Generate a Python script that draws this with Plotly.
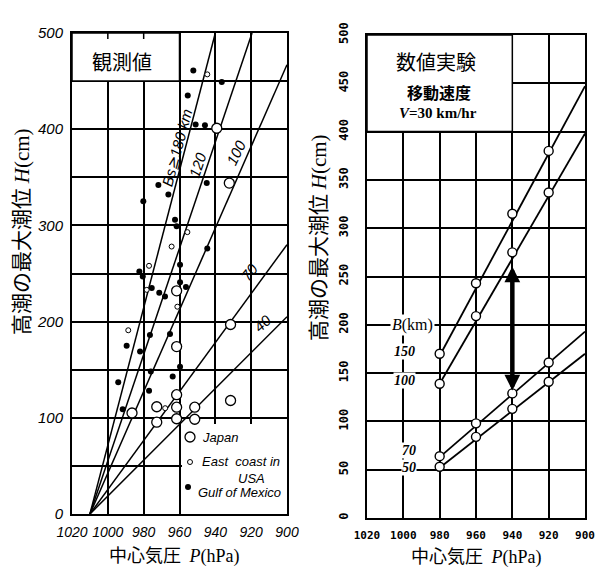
import plotly.graph_objects as go

# ---------------- data: left panel (observations) ----------------
japan_P = [939.2, 932.2, 961.6, 961.6, 961.6, 961.6, 961.6, 931.5, 986.5, 972.7, 972.7, 951.5, 951.5, 931.5]
japan_H = [401, 344, 232, 174, 124, 111, 99, 197, 105, 111.5, 95.5, 111, 98.5, 118]
east_P = [944.5, 955.6, 964.4, 977.0, 978.3, 961.2, 988.6, 968.0]
east_H = [457, 293, 278, 258, 233, 215.5, 191, 110]
gulf_P = [952.3, 936.4, 955.4, 951.0, 945.8, 944.8, 971.8, 966.2, 980.2, 962.5, 961.6, 944.5,
          959.7, 982.4, 980.5, 975.5, 959.7, 956.4, 971.3, 968.1, 976.5, 965.3, 989.5, 982.0,
          976.0, 959.7, 963.8, 994.2, 977.0, 991.7]
gulf_H = [461, 449, 435, 405, 404, 344, 342, 332, 325, 306, 299, 276,
          259, 252, 247, 235, 241, 236, 230, 226, 186, 187, 175, 169,
          148, 153, 143, 137, 128, 109]

line_labels = ["Bs≧180 km", "120", "100", "70", "40"]
line_origin_P = 1010
line_end_P = [940, 919.5, 900, 900, 900]
line_end_H = [500, 500, 467, 280, 205]
line_label_P = [961.4, 949.7, 928.5, 921.2, 913.9]
line_label_H = [381, 363, 376, 251, 198]

# ---------------- data: right panel (numerical experiment) ----------------
num_P = [980, 960, 940, 920]
B_labels = ["150", "100", "70", "50"]
B_H = {
    "150": [170, 243, 315, 380],
    "100": [139, 209, 275, 337],
    "70": [64, 98, 129, 161],
    "50": [53, 84, 113, 141],
}
fit_P = [980, 900]
fit_H = {
    "150": [168, 447],
    "100": [139, 398],
    "70": [63, 193],
    "50": [52, 170],
}
arrow_P = 940
arrow_H = [262, 132]

x_ticks = [1020, 1000, 980, 960, 940, 920, 900]

W, Hpx = 603, 568
def px(x): return x / W
def py(y): return 1 - y / Hpx

fig = go.Figure()

# left lines
for i, lab in enumerate(line_labels):
    fig.add_trace(go.Scatter(x=[line_origin_P, line_end_P[i]], y=[0, line_end_H[i]],
                             mode="lines", line=dict(color="black", width=1.5),
                             xaxis="x", yaxis="y", showlegend=False, hoverinfo="skip"))
fig.add_trace(go.Scatter(x=gulf_P, y=gulf_H, mode="markers", xaxis="x", yaxis="y",
                         marker=dict(size=6, color="black"), showlegend=False))
fig.add_trace(go.Scatter(x=east_P, y=east_H, mode="markers", xaxis="x", yaxis="y",
                         marker=dict(size=5, color="white", line=dict(color="black", width=1)),
                         showlegend=False))
fig.add_trace(go.Scatter(x=japan_P, y=japan_H, mode="markers", xaxis="x", yaxis="y",
                         marker=dict(size=10, color="white", line=dict(color="black", width=1.3)),
                         showlegend=False))

# right lines + points
for b in B_labels:
    fig.add_trace(go.Scatter(x=fit_P, y=fit_H[b], mode="lines", xaxis="x2", yaxis="y2",
                             line=dict(color="black", width=1.8), showlegend=False))
for b in B_labels:
    fig.add_trace(go.Scatter(x=num_P, y=B_H[b], mode="markers", xaxis="x2", yaxis="y2",
                             marker=dict(size=9, color="white", line=dict(color="black", width=1.4)),
                             showlegend=False))

grid = dict(showgrid=True, gridcolor="black", gridwidth=1.5, showline=True, mirror=True,
            linecolor="black", linewidth=2, zeroline=False, ticks="", automargin=False)

fig.update_layout(
    width=W, height=Hpx, margin=dict(l=0, r=0, t=0, b=0, pad=0, autoexpand=False),
    paper_bgcolor="white", plot_bgcolor="white",
    font=dict(family="Noto Sans CJK JP", color="black"),
    xaxis=dict(domain=[px(72), px(287)], range=[1020, 900], tickvals=x_ticks, anchor="y",
               tickfont=dict(family="Liberation Sans", size=14, style="italic"),
               ticklabelstandoff=4, **grid),
    yaxis=dict(domain=[py(514), py(33)], range=[0, 500], anchor="x",
               tickvals=list(range(0, 501, 50)),
               ticktext=[str(v) if v % 100 == 0 else "" for v in range(0, 501, 50)],
               tickfont=dict(family="Liberation Sans", size=15, style="italic"),
               ticklabelstandoff=4, **grid),
    xaxis2=dict(domain=[px(367), px(585)], range=[1020, 900], tickvals=x_ticks, anchor="y2",
                tickfont=dict(family="DejaVu Sans Mono", size=11, weight="bold"),
                ticklabelstandoff=6, **grid),
    yaxis2=dict(domain=[py(518), py(35)], range=[0, 500], anchor="x2",
                tickvals=list(range(0, 501, 50)), tickangle=-90,
                tickfont=dict(family="DejaVu Sans Mono", size=12, weight="bold"),
                ticklabelstandoff=12, **grid),
)

shapes = [
    dict(type="rect", xref="x", yref="y", x0=1020, x1=960, y0=450, y1=500, layer="between",
         fillcolor="white", line=dict(color="black", width=1.5)),
    dict(type="rect", xref="x", yref="y", x0=958.6, x1=900, y0=0, y1=93.5, layer="between",
         fillcolor="white", line=dict(width=0)),
    dict(type="rect", xref="x2", yref="y2", x0=1020, x1=940, y0=400, y1=500, layer="between",
         fillcolor="white", line=dict(color="black", width=1.5)),
]
# small ticks on top frame of left panel
for xv in [1000, 980]:
    shapes.append(dict(type="line", xref="x", yref="paper", x0=xv, x1=xv, y0=py(33), y1=py(39),
                       line=dict(color="black", width=1.5)))
# legend symbols
for (cx, cy, d, fill, lw) in [(190, 437, 10, "white", 1.3), (190, 462, 5, "white", 1), (188, 487, 6, "black", 0)]:
    shapes.append(dict(type="circle", xref="paper", yref="paper", xsizemode="pixel", ysizemode="pixel",
                       xanchor=px(cx), yanchor=py(cy), x0=-d / 2, x1=d / 2, y0=-d / 2, y1=d / 2,
                       fillcolor=fill, line=dict(color="black", width=lw)))
fig.update_layout(shapes=shapes)

ann = []
def A(x, y, text, size, xanchor="center", **kw):
    d = dict(xref="paper", yref="paper", x=px(x), y=py(y), text=text, showarrow=False,
             xanchor=xanchor, yanchor="middle",
             font=dict(size=size, color="black", **kw.pop("font", {})))
    d.update(kw)
    ann.append(d)

# axis titles
A(20, 232, "高潮の最大潮位 <span style='font-family:Liberation Serif'><i>H</i>(cm)</span>", 21, textangle=-90)
A(317, 238, "高潮の最大潮位 <span style='font-family:Liberation Serif'><i>H</i>(cm)</span>", 21, textangle=-90)
A(174, 554, "中心気圧 <span style='font-family:Liberation Serif'> <i>P</i>(hPa)</span>", 18)
A(476, 555, "中心気圧 <span style='font-family:Liberation Serif'> <i>P</i>(hPa)</span>", 18)

# box texts
A(122, 62, "観測値", 20)
A(436, 62, "数値実験", 20)
A(439, 92, "<b>移動速度</b>", 16)
A(438, 113, "<b><i>V</i>=30 km/hr</b>", 15, font=dict(family="Liberation Serif"))

# legend text
A(200, 437, "Japan", 13, xanchor="left", font=dict(family="Liberation Sans", style="italic"))
A(200, 461, "East  coast in", 13, xanchor="left", font=dict(family="Liberation Sans", style="italic"))
A(251, 478, "USA", 13, font=dict(family="Liberation Sans", style="italic"))
A(196, 492, "Gulf of Mexico", 13, xanchor="left", font=dict(family="Liberation Sans", style="italic"))

# line labels left
angles = [-75, -71, -64, -52, -42]
for i, lab in enumerate(line_labels):
    ann.append(dict(xref="x", yref="y", x=line_label_P[i], y=line_label_H[i], text=lab,
                    showarrow=False, textangle=angles[i], xanchor="center", yanchor="middle",
                    font=dict(family="Liberation Sans", size=15, style="italic", color="black")))

# right labels
ann.append(dict(xref="x2", yref="y2", x=994.7, y=200, text="<i>B</i>(km)", showarrow=False,
                xanchor="center", yanchor="middle",
                bgcolor="white", font=dict(family="Liberation Serif", size=16, color="black")))
rl_P = [999.6, 999.6, 996.9, 996.9]
rl_H = [172, 142, 70, 52]
for i, b in enumerate(B_labels):
    ann.append(dict(xref="x2", yref="y2", x=rl_P[i], y=rl_H[i], text="<b><i>%s</i></b>" % b,
                    showarrow=False, bgcolor="white", borderpad=0, xanchor="center", yanchor="middle",
                    font=dict(family="Liberation Serif", size=14, color="black")))

# arrow
ann.append(dict(xref="x2", yref="y2", axref="x2", ayref="y2", x=arrow_P, y=arrow_H[1],
                ax=arrow_P, ay=arrow_H[0], text="", showarrow=True, arrowhead=2,
                arrowside="end+start", arrowwidth=4.5, arrowsize=0.7, arrowcolor="black"))

fig.update_layout(annotations=ann)
fig.write_html("out.html")
